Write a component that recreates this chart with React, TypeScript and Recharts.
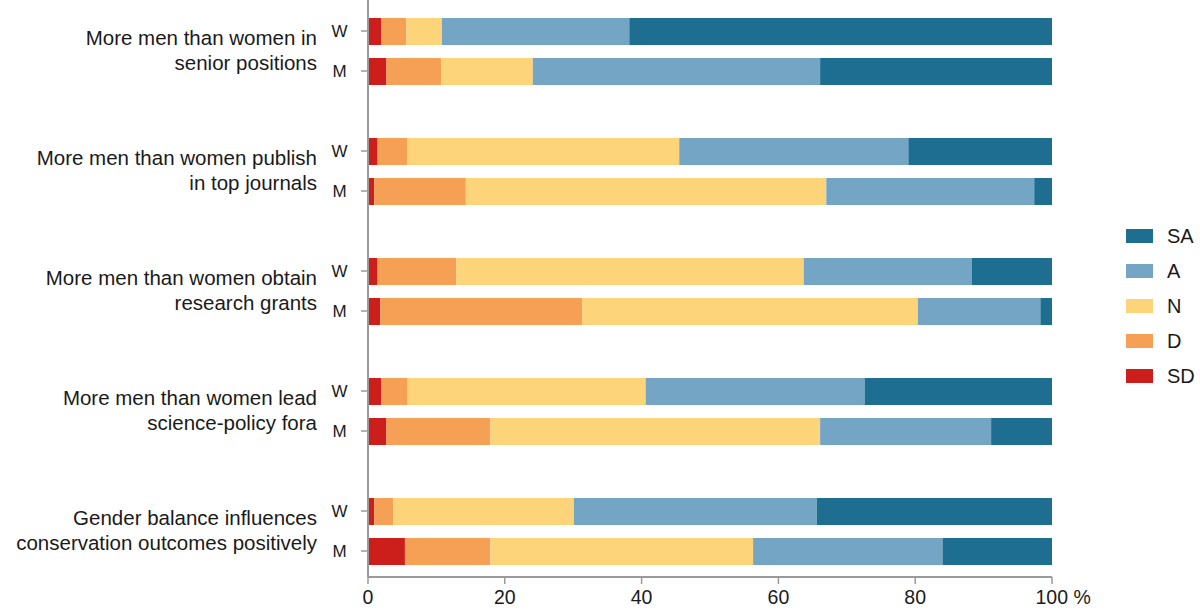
import React from 'react';
import { BarChart, Bar, XAxis, YAxis } from 'recharts';

const groupLabels = [
  ['More men than women in', 'senior positions'],
  ['More men than women publish', 'in top journals'],
  ['More men than women obtain', 'research grants'],
  ['More men than women lead', 'science-policy fora'],
  ['Gender balance influences', 'conservation outcomes positively'],
];
const respondents = ['W', 'M'];

// percentages per bar, order: W1, M1, W2, M2, ...
const sd = [1.9, 2.7, 1.4, 0.9, 1.4, 1.8, 1.9, 2.7, 0.9, 5.4];
const dis = [3.7, 8.0, 4.3, 13.4, 11.5, 29.5, 3.9, 15.2, 2.8, 12.5];
const neu = [5.2, 13.4, 39.8, 52.7, 50.8, 49.1, 34.8, 48.2, 26.4, 38.4];
const agr = [27.4, 42.0, 33.5, 30.4, 24.6, 17.9, 32.0, 25.0, 35.5, 27.7];
const sa = [61.8, 33.9, 21.0, 2.6, 11.7, 1.7, 27.4, 8.9, 34.4, 16.0];

const xTicks = [0, 20, 40, 60, 80, 100];

const series = [
  { key: 'SD', color: '#cc1f1c' },
  { key: 'D', color: '#f5a055' },
  { key: 'N', color: '#fed47b' },
  { key: 'A', color: '#74a5c4' },
  { key: 'SA', color: '#1d6e91' },
];

const FONT = '"Liberation Sans", Arial, Helvetica, sans-serif';
const TEXT = '#1a1a1a';
const AXIS = '#9a9a9a';
const AXIS_X = 368;

const rows: any[] = [];
groupLabels.forEach((lines, g) => {
  respondents.forEach((r, k) => {
    const i = g * 2 + k;
    rows.push({ key: `${r}${g}`, who: r, group: g, SD: sd[i], D: dis[i], N: neu[i], A: agr[i], SA: sa[i] });
  });
  if (g < groupLabels.length - 1) rows.push({ key: `gap${g}`, who: '', group: g });
});

function YTick(props: any) {
  const { y, payload } = props;
  const row = rows.find((r) => r.key === payload.value);
  if (!row || !row.who) return <g />;
  const lines = groupLabels[row.group];
  return (
    <g>
      <line x1={AXIS_X - 7} x2={AXIS_X} y1={y} y2={y} stroke={AXIS} strokeWidth={1.5} />
      <text x={339.5} y={y + 6} textAnchor="middle" fontSize={17} fontFamily={FONT} fill={TEXT}>
        {row.who}
      </text>
      {row.who === 'W' && (
        <text textAnchor="end" fontSize={20.5} fontFamily={FONT} fill={TEXT}>
          <tspan x={317} y={y + 13.5}>{lines[0]}</tspan>
          <tspan x={317} y={y + 38.5}>{lines[1]}</tspan>
        </text>
      )}
    </g>
  );
}

function XTick(props: any) {
  const { x, y, payload } = props;
  const v = payload.value;
  if (v === 100) {
    return (
      <text x={x - 16.5} y={y + 19.5} textAnchor="start" fontSize={19.5} fontFamily={FONT} fill={TEXT}>
        100 %
      </text>
    );
  }
  return (
    <text x={x} y={y + 19.5} textAnchor="middle" fontSize={19.5} fontFamily={FONT} fill={TEXT}>
      {v}
    </text>
  );
}

function LegendBox() {
  return (
    <div style={{ position: 'absolute', left: 1126, top: 218.5, fontFamily: FONT, color: TEXT }}>
      {[...series].reverse().map((s) => (
        <div key={s.key} style={{ display: 'flex', alignItems: 'center', height: 35 }}>
          <div style={{ width: 27, height: 14, background: s.color, marginRight: 14 }} />
          <span style={{ fontSize: 20, lineHeight: '20px' }}>{s.key}</span>
        </div>
      ))}
    </div>
  );
}

export default function App() {
  return (
    <div style={{ position: 'absolute', left: 0, top: 0, width: 1200, height: 612, background: '#fff' }}>
      <BarChart
        width={1200}
        height={612}
        data={rows}
        layout="vertical"
        margin={{ top: 0, right: 148, left: 0, bottom: 0 }}
        barSize={27}
      >
        <XAxis
          type="number"
          domain={[0, 100]}
          ticks={xTicks}
          height={35}
          tickSize={7}
          tickMargin={0}
          tickLine={{ stroke: AXIS, strokeWidth: 1.5 }}
          axisLine={{ stroke: AXIS, strokeWidth: 2 }}
          tick={<XTick />}
        />
        <YAxis
          type="category"
          dataKey="key"
          width={368}
          interval={0}
          padding={{ top: 11, bottom: 6 }}
          tickLine={false}
          axisLine={{ stroke: AXIS, strokeWidth: 2 }}
          tick={<YTick />}
        />
        {series.map((s) => (
          <Bar key={s.key} dataKey={s.key} stackId="s" fill={s.color} isAnimationActive={false} />
        ))}
      </BarChart>
      <LegendBox />
    </div>
  );
}
